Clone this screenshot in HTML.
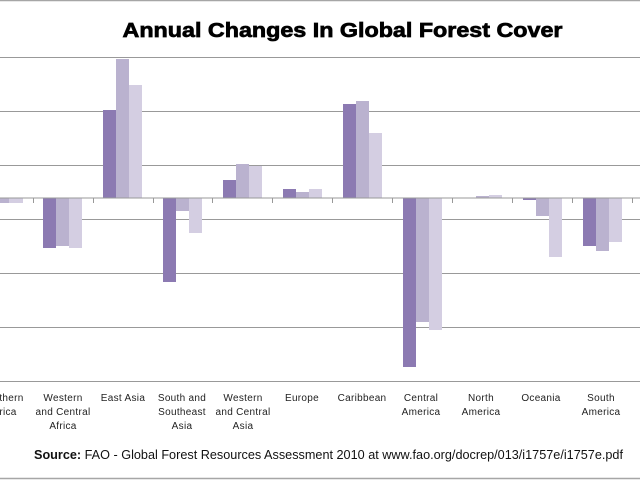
<!DOCTYPE html>
<html><head><meta charset="utf-8"><style>
html,body{margin:0;padding:0;background:#fff;width:640px;height:480px;overflow:hidden}
svg{display:block}
text{font-family:"Liberation Sans",Arial,sans-serif}
</style></head><body>
<svg width="640" height="480" viewBox="0 0 640 480" xmlns="http://www.w3.org/2000/svg">
<rect width="640" height="480" fill="#fff"/>
<line x1="0" y1="0.5" x2="640" y2="0.5" stroke="#a6a6a6" stroke-width="1.5"/>
<line x1="0" y1="478.5" x2="640" y2="478.5" stroke="#a6a6a6" stroke-width="1.5"/>
<g stroke="#999" stroke-width="1">
<line x1="0" y1="57.5" x2="640" y2="57.5"/>
<line x1="0" y1="111.5" x2="640" y2="111.5"/>
<line x1="0" y1="165.5" x2="640" y2="165.5"/>
<line x1="0" y1="219.5" x2="640" y2="219.5"/>
<line x1="0" y1="273.5" x2="640" y2="273.5"/>
<line x1="0" y1="327.5" x2="640" y2="327.5"/>
<line x1="0" y1="381.5" x2="640" y2="381.5"/>
</g>
<g>
<rect x="-4" y="198" width="13" height="5" fill="#bab2cf"/>
<rect x="9" y="198" width="14" height="5" fill="#d4cee2"/>
<rect x="43" y="198" width="13" height="50" fill="#8c7ab2"/>
<rect x="56" y="198" width="13" height="48" fill="#bab2cf"/>
<rect x="69" y="198" width="13" height="50" fill="#d4cee2"/>
<rect x="103" y="110" width="13" height="88" fill="#8c7ab2"/>
<rect x="116" y="59" width="13" height="139" fill="#bab2cf"/>
<rect x="129" y="85" width="13" height="113" fill="#d4cee2"/>
<rect x="163" y="198" width="13" height="84" fill="#8c7ab2"/>
<rect x="176" y="198" width="13" height="13" fill="#bab2cf"/>
<rect x="189" y="198" width="13" height="35" fill="#d4cee2"/>
<rect x="223" y="180" width="13" height="18" fill="#8c7ab2"/>
<rect x="236" y="164" width="13" height="34" fill="#bab2cf"/>
<rect x="249" y="166" width="13" height="32" fill="#d4cee2"/>
<rect x="283" y="189" width="13" height="9" fill="#8c7ab2"/>
<rect x="296" y="192" width="13" height="6" fill="#bab2cf"/>
<rect x="309" y="189" width="13" height="9" fill="#d4cee2"/>
<rect x="343" y="104" width="13" height="94" fill="#8c7ab2"/>
<rect x="356" y="101" width="13" height="97" fill="#bab2cf"/>
<rect x="369" y="133" width="13" height="65" fill="#d4cee2"/>
<rect x="403" y="198" width="13" height="169" fill="#8c7ab2"/>
<rect x="416" y="198" width="13" height="124" fill="#bab2cf"/>
<rect x="429" y="198" width="13" height="132" fill="#d4cee2"/>
<rect x="476" y="196" width="13" height="2" fill="#bab2cf"/>
<rect x="489" y="195" width="13" height="3" fill="#d4cee2"/>
<rect x="523" y="198" width="13" height="2" fill="#8c7ab2"/>
<rect x="536" y="198" width="13" height="18" fill="#bab2cf"/>
<rect x="549" y="198" width="13" height="59" fill="#d4cee2"/>
<rect x="583" y="198" width="13" height="48" fill="#8c7ab2"/>
<rect x="596" y="198" width="13" height="53" fill="#bab2cf"/>
<rect x="609" y="198" width="13" height="44" fill="#d4cee2"/>
</g>
<g stroke="#999" stroke-width="1">
<line x1="0" y1="198" x2="640" y2="198"/>
<line x1="33.5" y1="198" x2="33.5" y2="203"/>
<line x1="93.5" y1="198" x2="93.5" y2="203"/>
<line x1="153.5" y1="198" x2="153.5" y2="203"/>
<line x1="212.5" y1="198" x2="212.5" y2="203"/>
<line x1="272.5" y1="198" x2="272.5" y2="203"/>
<line x1="332.5" y1="198" x2="332.5" y2="203"/>
<line x1="392.5" y1="198" x2="392.5" y2="203"/>
<line x1="452.5" y1="198" x2="452.5" y2="203"/>
<line x1="512.5" y1="198" x2="512.5" y2="203"/>
<line x1="572.5" y1="198" x2="572.5" y2="203"/>
<line x1="632.5" y1="198" x2="632.5" y2="203"/>
</g>
<text x="122.5" y="37" font-size="20" font-weight="bold" fill="#000" stroke="#000" stroke-width="0.7" textLength="440" lengthAdjust="spacingAndGlyphs">Annual Changes In Global Forest Cover</text>
<g font-size="10" fill="#222" text-anchor="middle" letter-spacing="0.3">
<text x="3" y="401">Northern</text><text x="3" y="415">Africa</text>
<text x="63" y="401">Western</text><text x="63" y="415">and Central</text><text x="63" y="429">Africa</text>
<text x="123" y="401">East Asia</text>
<text x="182" y="401">South and</text><text x="182" y="415">Southeast</text><text x="182" y="429">Asia</text>
<text x="243" y="401">Western</text><text x="243" y="415">and Central</text><text x="243" y="429">Asia</text>
<text x="302" y="401">Europe</text>
<text x="362" y="401">Caribbean</text>
<text x="421" y="401">Central</text><text x="421" y="415">America</text>
<text x="481" y="401">North</text><text x="481" y="415">America</text>
<text x="541" y="401">Oceania</text>
<text x="601" y="401">South</text><text x="601" y="415">America</text>
</g>
<text x="34" y="459" font-size="13" fill="#111" textLength="589" lengthAdjust="spacingAndGlyphs"><tspan font-weight="bold">Source:</tspan> FAO - Global Forest Resources Assessment 2010 at www.fao.org/docrep/013/i1757e/i1757e.pdf</text>
</svg>
</body></html>
